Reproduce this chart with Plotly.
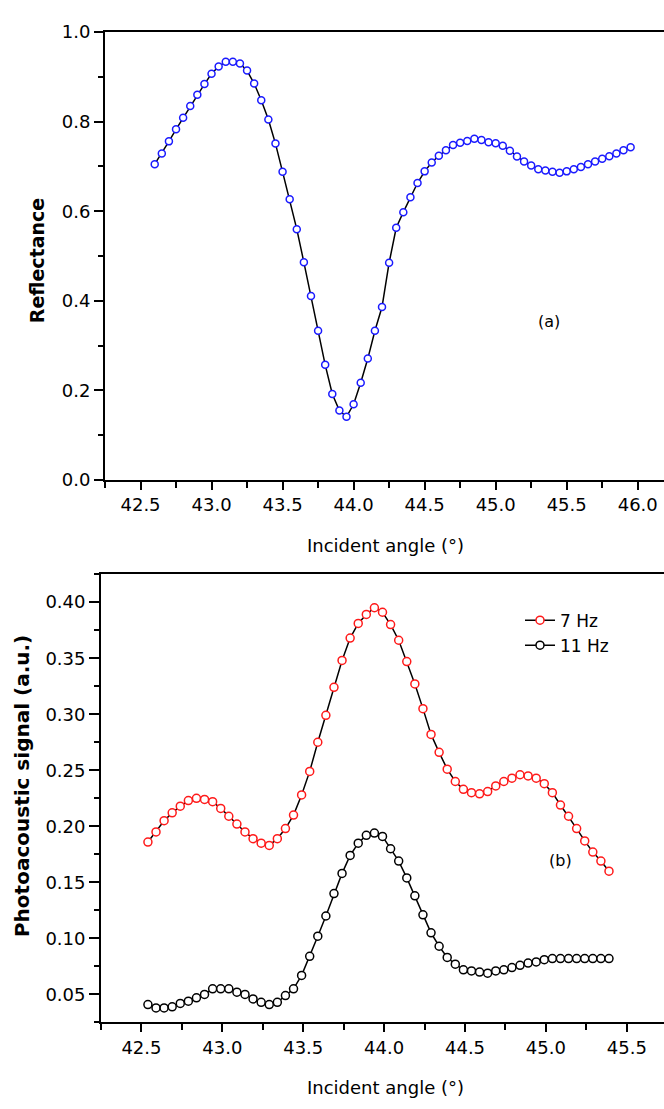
import plotly.graph_objects as go

# ---- (a) reflectance versus incident angle ----
angle_a = [42.60, 42.65, 42.70, 42.75, 42.80, 42.85, 42.90, 42.95, 43.00, 43.05,
           43.10, 43.15, 43.20, 43.25, 43.30, 43.35, 43.40, 43.45, 43.50, 43.55,
           43.60, 43.65, 43.70, 43.75, 43.80, 43.85, 43.90, 43.95, 44.00, 44.05,
           44.10, 44.15, 44.20, 44.25, 44.30, 44.35, 44.40, 44.45, 44.50, 44.55,
           44.60, 44.65, 44.70, 44.75, 44.80, 44.85, 44.90, 44.95, 45.00, 45.05,
           45.10, 45.15, 45.20, 45.25, 45.30, 45.35, 45.40, 45.45, 45.50, 45.55,
           45.60, 45.65, 45.70, 45.75, 45.80, 45.85, 45.90, 45.95]
reflectance = [0.705, 0.729, 0.756, 0.783, 0.809, 0.835, 0.860, 0.884, 0.907, 0.923,
               0.934, 0.934, 0.930, 0.914, 0.885, 0.848, 0.805, 0.751, 0.688, 0.627,
               0.560, 0.486, 0.411, 0.333, 0.257, 0.192, 0.155, 0.141, 0.169, 0.217,
               0.271, 0.333, 0.386, 0.485, 0.563, 0.598, 0.631, 0.663, 0.689, 0.709,
               0.724, 0.736, 0.748, 0.753, 0.757, 0.762, 0.759, 0.754, 0.752, 0.746,
               0.735, 0.722, 0.711, 0.702, 0.694, 0.691, 0.688, 0.686, 0.689, 0.694,
               0.699, 0.705, 0.711, 0.717, 0.723, 0.729, 0.736, 0.743]

# ---- (b) photoacoustic signal at two modulation frequencies ----
angle_b = [42.54, 42.59, 42.64, 42.69, 42.74, 42.79, 42.84, 42.89, 42.94, 42.99,
           43.04, 43.09, 43.14, 43.19, 43.24, 43.29, 43.34, 43.39, 43.44, 43.49,
           43.54, 43.59, 43.64, 43.69, 43.74, 43.79, 43.84, 43.89, 43.94, 43.99,
           44.04, 44.09, 44.14, 44.19, 44.24, 44.29, 44.34, 44.39, 44.44, 44.49,
           44.54, 44.59, 44.64, 44.69, 44.74, 44.79, 44.84, 44.89, 44.94, 44.99,
           45.04, 45.09, 45.14, 45.19, 45.24, 45.29, 45.34, 45.39]
signal_7hz = [0.186, 0.195, 0.205, 0.212, 0.218, 0.223, 0.225, 0.224, 0.222, 0.216,
              0.209, 0.202, 0.195, 0.189, 0.185, 0.183, 0.189, 0.198, 0.210, 0.228,
              0.249, 0.275, 0.299, 0.324, 0.348, 0.368, 0.381, 0.389, 0.395, 0.391,
              0.380, 0.366, 0.347, 0.327, 0.305, 0.282, 0.266, 0.251, 0.240, 0.233,
              0.230, 0.229, 0.231, 0.236, 0.240, 0.243, 0.246, 0.245, 0.243, 0.238,
              0.230, 0.219, 0.209, 0.198, 0.187, 0.177, 0.169, 0.160]
signal_11hz = [0.041, 0.038, 0.038, 0.039, 0.042, 0.044, 0.047, 0.050, 0.055, 0.055,
               0.055, 0.052, 0.050, 0.046, 0.043, 0.041, 0.043, 0.049, 0.055, 0.067,
               0.084, 0.102, 0.120, 0.140, 0.158, 0.174, 0.185, 0.192, 0.194, 0.191,
               0.180, 0.169, 0.154, 0.138, 0.121, 0.105, 0.093, 0.083, 0.077, 0.072,
               0.071, 0.070, 0.069, 0.071, 0.072, 0.074, 0.076, 0.078, 0.079, 0.081,
               0.082, 0.082, 0.082, 0.082, 0.082, 0.082, 0.082, 0.082]

W, H = 664, 1109
TICK_FONT = dict(family="DejaVu Sans", size=18, color="black")
AXIS_TITLE = "Incident angle (°)"


def px_x(p):
    return p / W


def px_y(p):
    return 1 - p / H


fig = go.Figure()

fig.add_trace(go.Scatter(
    x=angle_a, y=reflectance, mode="lines+markers", showlegend=False,
    line=dict(color="black", width=1.5),
    marker=dict(symbol="circle", size=7, color="white",
                line=dict(color="#1a1aff", width=1.5)),
    xaxis="x", yaxis="y"))

fig.add_trace(go.Scatter(
    x=angle_b, y=signal_7hz, mode="lines+markers", name="7 Hz",
    line=dict(color="black", width=1.5),
    marker=dict(symbol="circle", size=8, color="white",
                line=dict(color="#ff1a1a", width=1.5)),
    xaxis="x2", yaxis="y2"))

fig.add_trace(go.Scatter(
    x=angle_b, y=signal_11hz, mode="lines+markers", name="11 Hz",
    line=dict(color="black", width=1.5),
    marker=dict(symbol="circle", size=8, color="white",
                line=dict(color="black", width=1.5)),
    xaxis="x2", yaxis="y2"))

common_axis = dict(showline=True, linecolor="black", linewidth=1.8,
                   ticks="outside", tickcolor="black", tickwidth=1.5,
                   showgrid=False, zeroline=False, tickfont=TICK_FONT)

fig.update_layout(
    width=W, height=H, autosize=False,
    margin=dict(l=0, r=0, t=0, b=0),
    paper_bgcolor="white", plot_bgcolor="white",
    xaxis=dict(common_axis, domain=[px_x(105), 1], range=[42.25, 46.185],
               anchor="y", tick0=42.5, dtick=0.5, tickformat=".1f", ticklen=8,
               mirror=True, ticklabelstandoff=0,
               minor=dict(ticks="outside", tick0=42.25, dtick=0.25, ticklen=6,
                          tickwidth=1.5, tickcolor="black")),
    yaxis=dict(common_axis, domain=[px_y(478), px_y(21.5)], range=[0, 1.0],
               anchor="x", tick0=0, dtick=0.2, tickformat=".1f", ticklen=9,
               minor=dict(ticks="outside", tick0=0, dtick=0.1, ticklen=5,
                          tickwidth=1.5, tickcolor="black")),
    xaxis2=dict(common_axis, domain=[px_x(101), 1], range=[42.25, 45.73],
                anchor="y2", tick0=42.5, dtick=0.5, tickformat=".1f", ticklen=8,
                mirror=True, ticklabelstandoff=0,
                minor=dict(ticks="outside", tick0=42.25, dtick=0.25, ticklen=6,
                           tickwidth=1.5, tickcolor="black")),
    yaxis2=dict(common_axis, domain=[px_y(1031), px_y(574)], range=[0.025, 0.425],
                anchor="x2", tick0=0.05, dtick=0.05, tickformat=".2f", ticklen=10,
                minor=dict(ticks="outside", tick0=0.025, dtick=0.025, ticklen=5,
                           tickwidth=1.5, tickcolor="black")),
    legend=dict(x=px_x(520), y=px_y(603), xanchor="left", yanchor="top",
                bgcolor="rgba(0,0,0,0)", borderwidth=0,
                font=dict(family="DejaVu Sans", size=17, color="black"),
                tracegroupgap=0),
)

annotations = [
    # axis titles
    dict(text="<b>Reflectance</b>", x=px_x(37), y=px_y(255), textangle=-90,
         font=dict(family="DejaVu Sans", size=19, color="black")),
    dict(text="<b>Photoacoustic signal (a.u.)</b>", x=px_x(22), y=px_y(790),
         textangle=-90, font=dict(family="DejaVu Sans", size=20, color="black")),
    dict(text=AXIS_TITLE, x=px_x(385), y=px_y(545),
         font=dict(family="DejaVu Sans", size=18, color="black")),
    dict(text=AXIS_TITLE, x=px_x(385), y=px_y(1097),
         font=dict(family="DejaVu Sans", size=18, color="black")),
    # panel labels
    dict(text="(a)", x=px_x(549), y=px_y(317),
         font=dict(family="DejaVu Sans", size=16, color="black")),
    dict(text="(b)", x=px_x(560), y=px_y(866),
         font=dict(family="DejaVu Sans", size=16, color="black")),
]
for a in annotations:
    a.update(xref="paper", yref="paper", showarrow=False,
             xanchor="center", yanchor="middle")
fig.update_layout(annotations=annotations)

fig.write_html("out.html")
